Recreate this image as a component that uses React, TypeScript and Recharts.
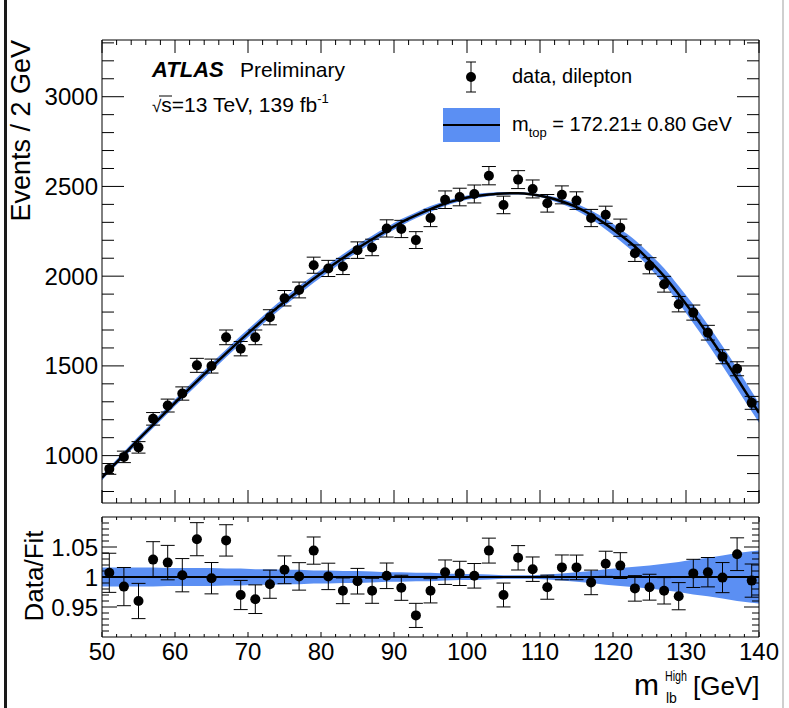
import React from 'react';
import {
  ComposedChart,
  Line,
  Area,
  Scatter,
  ErrorBar,
  XAxis,
  YAxis,
  ReferenceLine,
} from 'recharts';

// bin centres of the 2 GeV bins (GeV)
const binCentres = [
  51, 53, 55, 57, 59, 61, 63, 65, 67, 69, 71, 73, 75, 77, 79, 81, 83, 85, 87, 89, 91, 93,
  95, 97, 99, 101, 103, 105, 107, 109, 111, 113, 115, 117, 119, 121, 123, 125, 127, 129,
  131, 133, 135, 137, 139,
];

// data, dilepton
const eventCounts = [
  926, 993, 1046, 1205, 1279, 1346, 1503, 1499, 1659, 1596, 1659, 1771, 1877, 1923, 2061,
  2043, 2054, 2145, 2160, 2266, 2263, 2201, 2324, 2426, 2441, 2458, 2560, 2397, 2538, 2486,
  2406, 2453, 2421, 2324, 2342, 2270, 2128, 2058, 1955, 1844, 1797, 1685, 1551, 1484, 1294,
];

const countErrors = [
  30, 32, 32, 35, 36, 37, 39, 39, 41, 40, 41, 42, 43, 44, 45, 45, 45, 46, 46, 48, 48, 47,
  48, 49, 49, 50, 51, 49, 50, 50, 49, 50, 49, 48, 48, 48, 46, 45, 44, 43, 42, 41, 39, 39, 36,
];

// lower pad, data / fit
const dataOverFit = [
  1.007, 0.984, 0.96, 1.029, 1.024, 1.003, 1.063, 0.998, 1.061, 0.97, 0.963, 0.988, 1.012,
  1.001, 1.044, 1.001, 0.977, 0.993, 0.977, 1.002, 0.982, 0.936, 0.977, 1.008, 1.006, 1.002,
  1.044, 0.97, 1.032, 1.013, 0.983, 1.016, 1.016, 0.991, 1.022, 1.019, 0.981, 0.983, 0.977,
  0.968, 1.006, 1.008, 0.999, 1.038, 0.994,
];

// fit curve (m_top = 172.21 +- 0.80 GeV) and its relative uncertainty band
const fitMass = [
  50, 51, 53, 55, 57, 59, 61, 63, 65, 67, 69, 71, 73, 75, 77, 79, 81, 83, 85, 87, 89, 91,
  93, 95, 97, 99, 101, 103, 105, 107, 109, 111, 113, 115, 117, 119, 121, 123, 125, 127, 129,
  131, 133, 135, 137, 139, 140,
];
const fitEvents = [
  877, 920, 1005, 1090, 1172, 1254, 1335, 1414, 1493, 1570, 1645, 1718, 1790, 1857, 1922,
  1985, 2044, 2101, 2155, 2206, 2254, 2300, 2339, 2374, 2405, 2428, 2445, 2455, 2461, 2462,
  2455, 2440, 2416, 2385, 2342, 2290, 2230, 2165, 2087, 2000, 1898, 1790, 1675, 1555, 1430,
  1302, 1238,
];
const fitBandRel = [
  0.016, 0.016, 0.016, 0.016, 0.016, 0.015, 0.015, 0.015, 0.015, 0.014, 0.014, 0.013, 0.013,
  0.012, 0.012, 0.011, 0.011, 0.01, 0.01, 0.009, 0.008, 0.008, 0.007, 0.007, 0.006, 0.005,
  0.005, 0.004, 0.003, 0.003, 0.003, 0.004, 0.006, 0.008, 0.01, 0.013, 0.015, 0.017, 0.019,
  0.022, 0.025, 0.029, 0.032, 0.036, 0.04, 0.043, 0.044,
];

const massTicks = [
  50, 52, 54, 56, 58, 60, 62, 64, 66, 68, 70, 72, 74, 76, 78, 80, 82, 84, 86, 88, 90, 92,
  94, 96, 98, 100, 102, 104, 106, 108, 110, 112, 114, 116, 118, 120, 122, 124, 126, 128,
  130, 132, 134, 136, 138, 140,
];
const eventTicks = [
  800, 900, 1000, 1100, 1200, 1300, 1400, 1500, 1600, 1700, 1800, 1900, 2000, 2100, 2200,
  2300, 2400, 2500, 2600, 2700, 2800, 2900, 3000, 3100, 3200, 3300,
];
const ratioTicks = [
  0.91, 0.92, 0.93, 0.94, 0.95, 0.96, 0.97, 0.98, 0.99, 1, 1.01, 1.02, 1.03, 1.04, 1.05,
  1.06, 1.07, 1.08, 1.09,
];
const ratioLabels = ['0.95', '1', '1.05'];

const FONT = '"Liberation Sans", Arial, Helvetica, sans-serif';
const BAND = '#5b8ff3';

const fitTable = fitMass.map((x, i) => ({
  x,
  fit: fitEvents[i],
  band: [fitEvents[i] * (1 - fitBandRel[i]), fitEvents[i] * (1 + fitBandRel[i])],
  rband: [1 - fitBandRel[i], 1 + fitBandRel[i]],
}));

const points = binCentres.map((x, i) => ({ x, y: eventCounts[i], err: countErrors[i] }));

const ratioPoints = binCentres.map((x, i) => ({
  x,
  y: dataOverFit[i],
  err: countErrors[i] / fitEvents[fitMass.indexOf(x)],
}));

type Side = 'left' | 'right' | 'top' | 'bottom';

function makeTick(
  side: Side,
  isMajor: (v: number) => boolean,
  majorLen: number,
  minorLen: number,
  label?: (v: number) => string | null,
) {
  return (props: any) => {
    const { x, y, payload } = props;
    const v = payload.value as number;
    const major = isMajor(v);
    const len = major ? majorLen : minorLen;
    let x2 = x;
    let y2 = y;
    if (side === 'left') x2 = x + len;
    if (side === 'right') x2 = x - len;
    if (side === 'bottom') y2 = y - len;
    if (side === 'top') y2 = y + len;
    const txt = major && label ? label(v) : null;
    return (
      <g>
        <line x1={x} y1={y} x2={x2} y2={y2} stroke="#000" strokeWidth={1} />
        {txt !== null && side === 'left' && (
          <text x={x - 4} y={y + 8.5} textAnchor="end" fontSize={24} fontFamily={FONT} fill="#000">
            {txt}
          </text>
        )}
        {txt !== null && side === 'bottom' && (
          <text x={x} y={y + 23} textAnchor="middle" fontSize={24} fontFamily={FONT} fill="#000">
            {txt}
          </text>
        )}
      </g>
    );
  };
}

const massMajor = (v: number) => v % 10 === 0;
const eventMajor = (v: number) => v % 500 === 0;
const ratioMajor = (v: number) => ratioLabels.some((l) => Math.abs(parseFloat(l) - v) < 1e-6);
const ratioLabel = (v: number) =>
  ratioLabels.find((l) => Math.abs(parseFloat(l) - v) < 1e-6) ?? null;

const Dot = (p: any) => <circle cx={p.cx} cy={p.cy} r={5} fill="#000" />;

const frame = { stroke: '#000', strokeWidth: 1 };

function MainPad() {
  return (
    <ComposedChart
      width={789}
      height={510}
      data={fitTable}
      margin={{ top: 39, right: 29, bottom: 6, left: 0 }}
    >
      <XAxis
        dataKey="x"
        type="number"
        domain={[50, 140]}
        ticks={massTicks}
        interval={0}
        height={1}
        tickSize={0}
        tickMargin={0}
        tickLine={false}
        axisLine={frame}
        tick={makeTick('bottom', massMajor, 13, 5)}
        allowDataOverflow
      />
      <XAxis
        xAxisId="top"
        orientation="top"
        dataKey="x"
        type="number"
        domain={[50, 140]}
        ticks={massTicks}
        interval={0}
        height={1}
        tickSize={0}
        tickMargin={0}
        tickLine={false}
        axisLine={frame}
        tick={makeTick('top', massMajor, 13, 5)}
        allowDataOverflow
      />
      <YAxis
        type="number"
        domain={[736, 3316]}
        ticks={eventTicks}
        interval={0}
        width={102}
        tickSize={0}
        tickMargin={0}
        tickLine={false}
        axisLine={frame}
        tick={makeTick('left', eventMajor, 22, 12, (v) => String(v))}
        allowDataOverflow
      />
      <YAxis
        yAxisId="right"
        orientation="right"
        type="number"
        domain={[736, 3316]}
        ticks={eventTicks}
        interval={0}
        width={1}
        tickSize={0}
        tickMargin={0}
        tickLine={false}
        axisLine={frame}
        tick={makeTick('right', eventMajor, 22, 12)}
        allowDataOverflow
      />
      <Area
        dataKey="band"
        type="monotone"
        stroke="none"
        fill={BAND}
        fillOpacity={1}
        isAnimationActive={false}
      />
      <Line
        dataKey="fit"
        type="monotone"
        stroke="#000"
        strokeWidth={2.5}
        dot={false}
        isAnimationActive={false}
      />
      <Scatter data={points} dataKey="y" shape={Dot} isAnimationActive={false}>
        <ErrorBar dataKey="err" direction="y" width={7} stroke="#000" strokeWidth={1} />
      </Scatter>
    </ComposedChart>
  );
}

function RatioPad() {
  return (
    <ComposedChart
      width={789}
      height={198}
      data={fitTable}
      margin={{ top: 6, right: 29, bottom: 31, left: 0 }}
    >
      <XAxis
        dataKey="x"
        type="number"
        domain={[50, 140]}
        ticks={massTicks}
        interval={0}
        height={40}
        tickSize={0}
        tickMargin={0}
        tickLine={false}
        axisLine={frame}
        tick={makeTick('bottom', massMajor, 5, 3, (v) => String(v))}
        allowDataOverflow
      />
      <XAxis
        xAxisId="top"
        orientation="top"
        dataKey="x"
        type="number"
        domain={[50, 140]}
        ticks={massTicks}
        interval={0}
        height={1}
        tickSize={0}
        tickMargin={0}
        tickLine={false}
        axisLine={frame}
        tick={makeTick('top', massMajor, 5, 3)}
        allowDataOverflow
      />
      <YAxis
        type="number"
        domain={[0.9, 1.1]}
        ticks={ratioTicks}
        interval={0}
        width={102}
        tickSize={0}
        tickMargin={0}
        tickLine={false}
        axisLine={frame}
        tick={makeTick('left', ratioMajor, 15, 7, ratioLabel)}
        allowDataOverflow
      />
      <YAxis
        yAxisId="right"
        orientation="right"
        type="number"
        domain={[0.9, 1.1]}
        ticks={ratioTicks}
        interval={0}
        width={1}
        tickSize={0}
        tickMargin={0}
        tickLine={false}
        axisLine={frame}
        tick={makeTick('right', ratioMajor, 15, 7)}
        allowDataOverflow
      />
      <Area
        dataKey="rband"
        type="linear"
        stroke="none"
        fill={BAND}
        fillOpacity={1}
        isAnimationActive={false}
      />
      <ReferenceLine y={1} stroke="#000" strokeWidth={2} />
      <Scatter data={ratioPoints} dataKey="y" shape={Dot} isAnimationActive={false}>
        <ErrorBar dataKey="err" direction="y" width={7} stroke="#000" strokeWidth={1} />
      </Scatter>
    </ComposedChart>
  );
}

function Overlay() {
  return (
    <svg
      width={789}
      height={708}
      style={{ position: 'absolute', left: 0, top: 0, pointerEvents: 'none' }}
      fontFamily={FONT}
    >
      <line x1={5.5} y1={0} x2={5.5} y2={708} stroke="#1a1a1a" strokeWidth={3} />
      <line x1={783} y1={0} x2={783} y2={708} stroke="#cfcfcf" strokeWidth={2} />

      <text x={30} y={40} transform="rotate(-90 30 40)" textAnchor="end" fontSize={27}>
        Events / 2 GeV
      </text>
      <text x={43} y={576} transform="rotate(-90 43 576)" textAnchor="middle" fontSize={26}>
        Data/Fit
      </text>

      <text x={634} y={695} fontSize={30}>m</text>
      <text x={665} y={681} fontSize={14} textLength={22} lengthAdjust="spacingAndGlyphs">
        High
      </text>
      <text x={666} y={703} fontSize={14}>lb</text>
      <text x={693} y={695} fontSize={26}>[GeV]</text>

      <text x={152} y={77} fontSize={22} fontWeight="bold" fontStyle="italic">ATLAS</text>
      <text x={240} y={77} fontSize={21}>Preliminary</text>
      <text x={152} y={112} fontSize={21}>
        <tspan fontSize={17}>√</tspan>s=13 TeV, 139 fb
        <tspan fontSize={13} dy={-9}>-1</tspan>
      </text>
      <line x1={159} y1={96} x2={172} y2={96} stroke="#000" strokeWidth={1} />

      <line x1={471} y1={62} x2={471} y2={92} stroke="#000" strokeWidth={1} />
      <line x1={466} y1={62} x2={476} y2={62} stroke="#000" strokeWidth={1} />
      <line x1={466} y1={92} x2={476} y2={92} stroke="#000" strokeWidth={1} />
      <circle cx={471} cy={77} r={5} fill="#000" />
      <text x={512} y={83} fontSize={20}>data, dilepton</text>

      <rect x={443} y={108} width={57} height={34} fill={BAND} />
      <line x1={443} y1={125} x2={500} y2={125} stroke="#000" strokeWidth={2} />
      <text x={512} y={131} fontSize={20}>
        m<tspan fontSize={13} dy={6}>top</tspan>
        <tspan dy={-6}> = 172.21± 0.80 GeV</tspan>
      </text>
    </svg>
  );
}

export default function App() {
  return (
    <div
      style={{
        position: 'absolute',
        left: 0,
        top: 0,
        width: 789,
        height: 708,
        background: '#fff',
        fontFamily: FONT,
        overflow: 'hidden',
      }}
    >
      <div style={{ position: 'absolute', left: 0, top: 0 }}>
        <MainPad />
      </div>
      <div style={{ position: 'absolute', left: 0, top: 510 }}>
        <RatioPad />
      </div>
      <Overlay />
    </div>
  );
}
